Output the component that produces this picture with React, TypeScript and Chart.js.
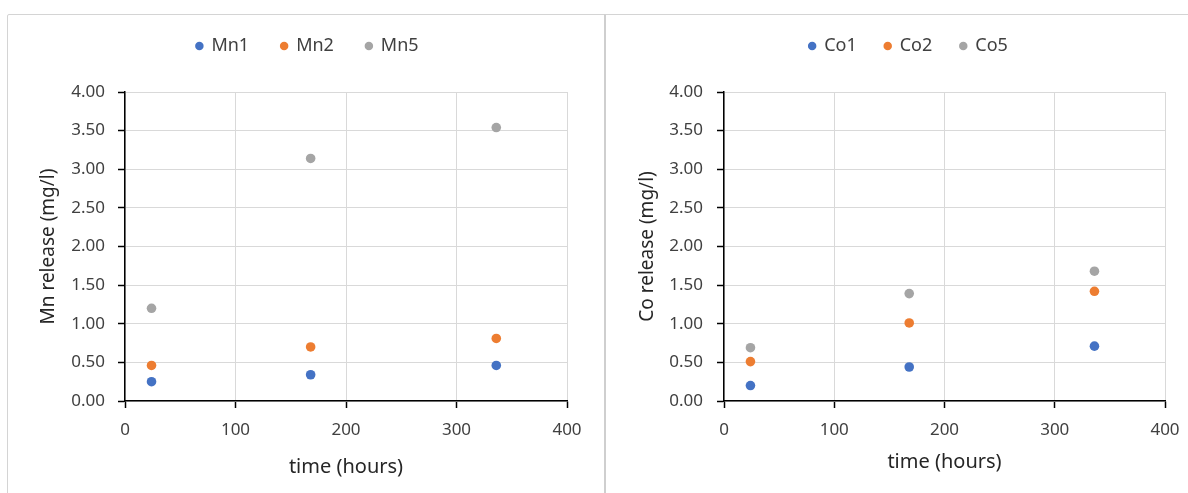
import React, { useEffect, useRef } from 'react';
import { Chart, registerables } from 'chart.js';

Chart.register(...registerables);

// ---- data ----
const times = [24, 168, 336];
const mn1 = [0.25, 0.34, 0.46];
const mn2 = [0.46, 0.70, 0.81];
const mn5 = [1.20, 3.14, 3.54];
const co1 = [0.20, 0.44, 0.71];
const co2 = [0.51, 1.01, 1.42];
const co5 = [0.69, 1.39, 1.68];
const mnLabels = ['Mn1', 'Mn2', 'Mn5'];
const coLabels = ['Co1', 'Co2', 'Co5'];
const xMin = 0;
const xMax = 400;
const xStep = 100;
const yMin = 0;
const yMax = 4;
const yStep = 0.5;
const xTitle = 'time (hours)';
const mnTitle = 'Mn release (mg/l)';
const coTitle = 'Co release (mg/l)';

const COLORS = ['#4472C4', '#ED7D31', '#A5A5A5'];
const FONT = "'Noto Sans', 'Open Sans', sans-serif";
const TEXT = '#404040';

type Layout = {
  left: number;
  top: number;
  width: number;
  height: number;
  legendPad: number;
  topPad: number;
  legendExtra: number;
  legendShift: number;
  yAxisWidth: number;
  yTitlePad: number;
  yTickPad: number;
  xAxisHeight: number;
  xTitlePad: number;
  padRight: number;
};

function legendTweaks(extra: number, shift: number) {
  return {
    id: 'legendTweaks',
    beforeInit(chart: any) {
      const legend = chart.legend;
      if (!legend) return;
      const origFit = legend.fit;
      legend.fit = function () {
        origFit.call(this);
        this.height += extra;
      };
    },
    afterLayout(chart: any) {
      const legend = chart.legend;
      if (!legend) return;
      legend.left += shift;
      legend.right += shift;
    },
  };
}

function ScatterBox(props: { labels: string[]; series: number[][]; yTitle: string; layout: Layout }) {
  const ref = useRef<HTMLCanvasElement | null>(null);
  const { labels, series, yTitle, layout } = props;

  useEffect(() => {
    if (!ref.current) return;
    const datasets = labels.map((lab, i) => ({
      label: lab,
      data: times.map((t, j) => ({ x: t, y: series[i][j] })),
      backgroundColor: COLORS[i],
      borderColor: COLORS[i],
      borderWidth: 0,
      pointRadius: 4.8,
      pointHoverRadius: 4.8,
      pointBorderWidth: 0,
      pointBackgroundColor: COLORS[i],
      showLine: false,
    }));
    const chart = new Chart(ref.current, {
      type: 'scatter',
      data: { datasets },
      plugins: [legendTweaks(layout.legendExtra, layout.legendShift)],
      options: {
        animation: false,
        responsive: false,
        devicePixelRatio: 1,
        layout: { padding: { left: 0, right: layout.padRight, top: layout.topPad, bottom: 0 } },
        plugins: {
          tooltip: { enabled: false },
          legend: {
            display: true,
            position: 'top',
            labels: {
              usePointStyle: true,
              pointStyle: 'circle',
              boxWidth: 6,
              boxHeight: 6,
              padding: layout.legendPad,
              color: TEXT,
              font: { family: FONT, size: 18 },
            },
          },
        },
        scales: {
          x: {
            type: 'linear',
            min: xMin,
            max: xMax,
            afterFit: (s: any) => {
              s.height = layout.xAxisHeight;
            },
            ticks: {
              stepSize: xStep,
              padding: 12,
              color: TEXT,
              font: { family: FONT, size: 17 },
              maxRotation: 0,
            },
            grid: {
              color: '#d9d9d9',
              lineWidth: 1,
              tickColor: '#000',
              tickLength: 7,
              tickWidth: 1.5,
            },
            border: { color: '#000', width: 1.5 },
            title: {
              display: true,
              text: xTitle,
              color: '#262626',
              font: { family: FONT, size: 20, lineHeight: 1.2 },
              padding: { top: 0, bottom: layout.xTitlePad },
            },
          },
          y: {
            type: 'linear',
            min: yMin,
            max: yMax,
            afterFit: (s: any) => {
              s.width = layout.yAxisWidth;
            },
            ticks: {
              stepSize: yStep,
              padding: layout.yTickPad,
              color: TEXT,
              font: { family: FONT, size: 17 },
              callback: (v: any) => Number(v).toFixed(2),
            },
            grid: {
              color: '#d9d9d9',
              lineWidth: 1,
              tickColor: '#000',
              tickLength: 7,
              tickWidth: 1.5,
            },
            border: { color: '#000', width: 1.5 },
            title: {
              display: true,
              text: yTitle,
              color: '#262626',
              font: { family: FONT, size: 19, lineHeight: 1.2 },
              padding: { top: layout.yTitlePad, bottom: 0 },
            },
          },
        },
      } as any,
    });
    return () => chart.destroy();
  }, []);

  return (
    <canvas
      ref={ref}
      width={layout.width}
      height={layout.height}
      style={{ position: 'absolute', left: layout.left, top: layout.top, width: layout.width, height: layout.height }}
    />
  );
}

const leftLayout: Layout = {
  left: 8,
  top: 5,
  width: 608,
  height: 488,
  legendPad: 32,
  topPad: 0,
  legendExtra: 27,
  legendShift: 20,
  yAxisWidth: 117,
  yTitlePad: 29.6,
  yTickPad: 13,
  xAxisHeight: 92,
  xTitlePad: 14,
  padRight: 49,
};

const rightLayout: Layout = {
  left: 606,
  top: 5,
  width: 612,
  height: 488,
  legendPad: 28,
  topPad: 4,
  legendExtra: 27,
  legendShift: 23,
  yAxisWidth: 118,
  yTitlePad: 30.6,
  yTickPad: 14,
  xAxisHeight: 92,
  xTitlePad: 19,
  padRight: 53,
};

export default function App() {
  return (
    <div
      style={{
        position: 'fixed',
        left: 0,
        top: 0,
        width: 1188,
        height: 493,
        overflow: 'hidden',
        background: '#fff',
      }}
    >
      <div
        style={{
          position: 'absolute',
          left: 7,
          top: 14,
          width: 597,
          height: 600,
          border: '1px solid #d4d4d4',
          borderRadius: 2,
        }}
      />
      <div
        style={{
          position: 'absolute',
          left: 604,
          top: 14,
          width: 700,
          height: 600,
          border: '1px solid #d4d4d4',
          borderLeft: '2px solid #cfcfcf',
        }}
      />
      <ScatterBox labels={mnLabels} series={[mn1, mn2, mn5]} yTitle={mnTitle} layout={leftLayout} />
      <ScatterBox labels={coLabels} series={[co1, co2, co5]} yTitle={coTitle} layout={rightLayout} />
    </div>
  );
}
